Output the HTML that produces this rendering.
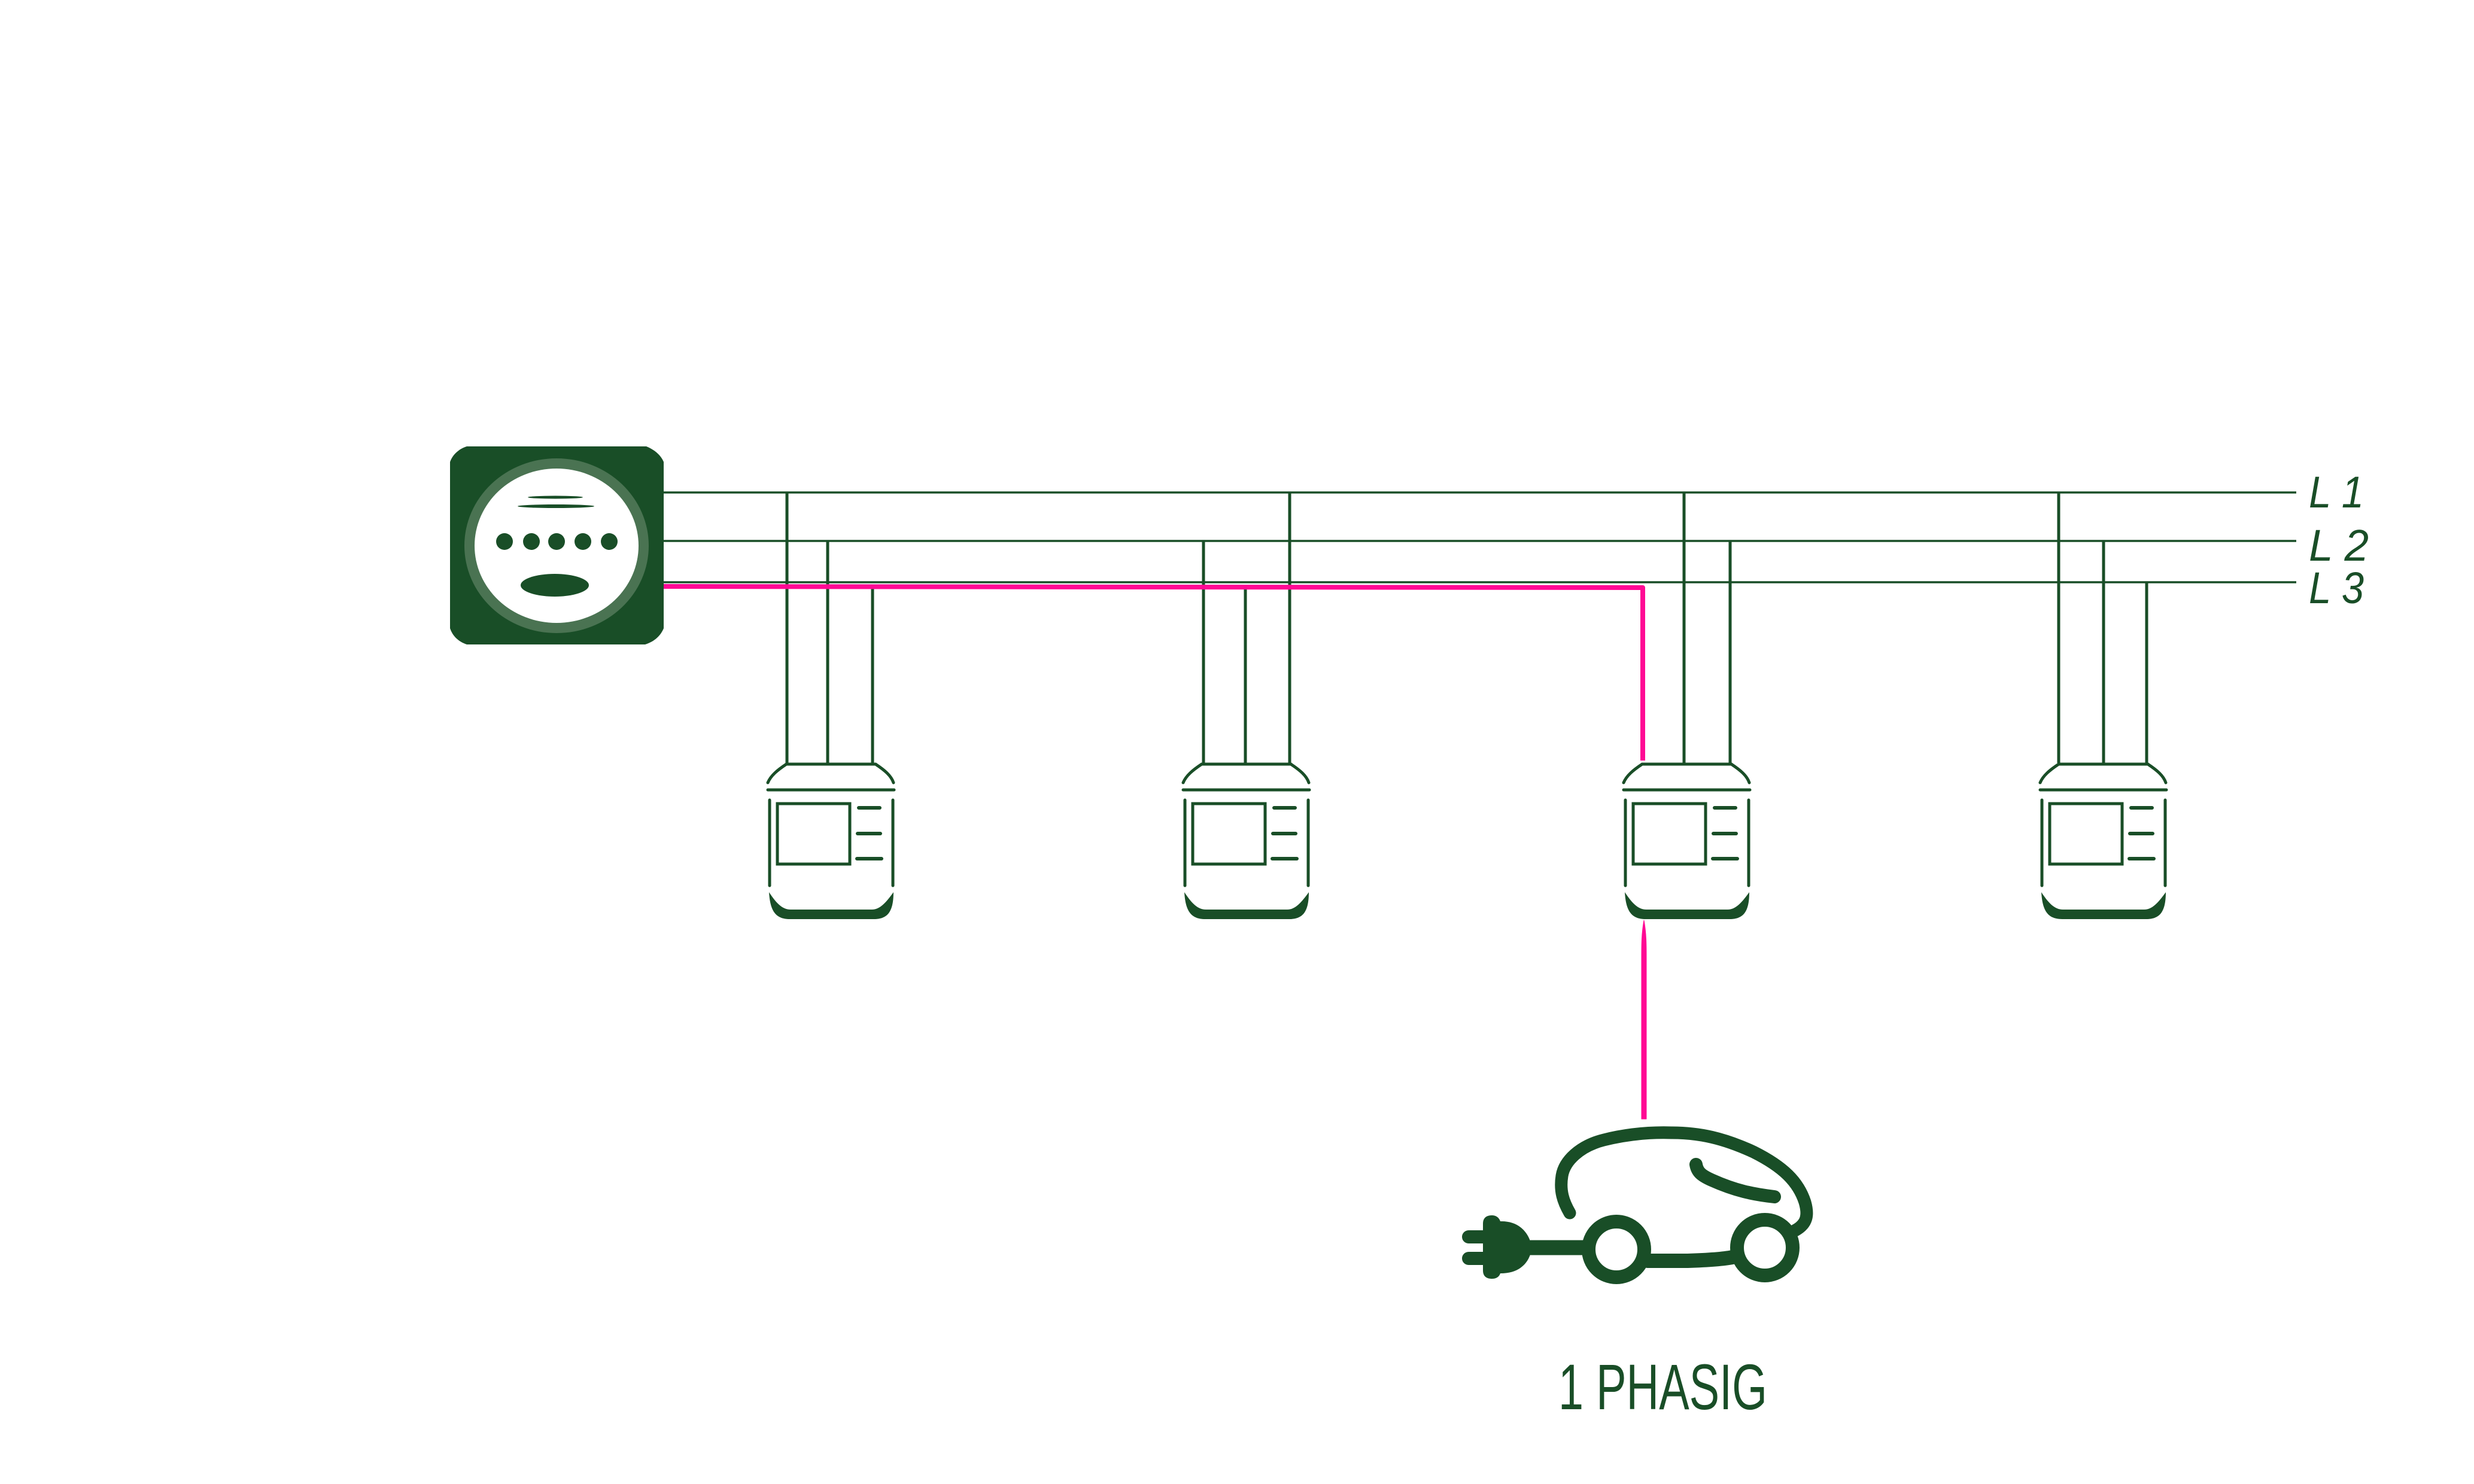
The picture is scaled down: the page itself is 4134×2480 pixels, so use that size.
<!DOCTYPE html>
<html><head><meta charset="utf-8"><style>
html,body{margin:0;padding:0;background:#fff;}
svg{display:block;}
</style></head><body>
<svg width="4134" height="2480" viewBox="0 0 4134 2480" xmlns="http://www.w3.org/2000/svg">
<defs>
<g id="dev" fill="none" stroke="#194e27" stroke-linecap="round">
  <path d="M29,3 L178,3" stroke-width="5"/>
  <path d="M29,3 C14,13 3,22 -2,34" stroke-width="5"/>
  <path d="M178,3 C193,13 204,22 208,34" stroke-width="5"/>
  <path d="M-2,46 L209,46" stroke-width="5"/>
  <path d="M1,63 L1,206 M207,63 L207,206" stroke-width="5"/>
  <rect x="14" y="69" width="121" height="101" stroke-width="5"/>
  <path d="M150,76 L185,76 M148,119 L186,119 M147,161 L188,161" stroke-width="6"/>
  <path d="M0,217 C2,250 12,262 35,262 L175,262 C198,262 208,250 208,217 C195,235 185,246 172,246 L36,246 C22,246 12,235 0,217 Z" fill="#194e27" stroke="none"/>
</g>
</defs>

<path d="M780,746 L1080,746 C1095,752 1105,762 1109,772 L1109,1050 C1104,1062 1094,1072 1078,1077 L780,1077 C765,1072 756,1062 752,1050 L752,772 C756,760 767,750 780,746 Z" fill="#194e27"/>
<ellipse cx="930" cy="912" rx="154" ry="146" fill="#4a7352"/>
<ellipse cx="930" cy="912" rx="137" ry="129" fill="#fff"/>
<ellipse cx="928" cy="831" rx="46" ry="2.5" fill="#194e27"/>
<ellipse cx="929" cy="846" rx="64" ry="3" fill="#194e27"/>
<circle cx="843" cy="905" r="14" fill="#194e27"/>
<circle cx="888" cy="905" r="14" fill="#194e27"/>
<circle cx="930" cy="905" r="14" fill="#194e27"/>
<circle cx="974" cy="905" r="14" fill="#194e27"/>
<circle cx="1018" cy="905" r="14" fill="#194e27"/>
<ellipse cx="927" cy="978" rx="57" ry="19" fill="#194e27"/>

<g stroke="#194e27" stroke-width="3.5" fill="none">
  <path d="M1109,823 L3837,823"/>
  <path d="M1109,904 L3837,904"/>
  <path d="M1109,973 L3837,973"/>
</g>
<g stroke="#194e27" stroke-width="5" fill="none">
  <path d="M1315,823 L1315,1275 M1383,904 L1383,1275 M1458,980 L1458,1275"/>
  <path d="M2011,904 L2011,1275 M2081,980 L2081,1275 M2155,823 L2155,1275"/>
  <path d="M2814,823 L2814,1275 M2891,904 L2891,1275"/>
  <path d="M3440,823 L3440,1275 M3515,904 L3515,1275 M3587,973 L3587,1275"/>
</g>
<path d="M1109,980 L2745,982 L2745,1271" stroke="#ff0a94" stroke-width="8" fill="none" stroke-linejoin="round"/>
<path d="M2747,1538 C2743,1560 2743,1580 2743,1600 L2743,1870 L2751,1870 L2751,1600 C2751,1580 2751,1560 2747,1538 Z" fill="#ff0a94" stroke="#ff0a94" stroke-width="1" stroke-linejoin="round"/>

<use href="#dev" x="1285" y="1274"/>
<use href="#dev" x="1979" y="1274"/>
<use href="#dev" x="2715" y="1274"/>
<use href="#dev" x="3411" y="1274"/>

<g fill="#194e27" font-family="Liberation Sans, sans-serif" font-size="74" font-style="italic">
  <text x="3858" y="848" textLength="92" lengthAdjust="spacingAndGlyphs">L 1</text>
  <text x="3858" y="937" textLength="100" lengthAdjust="spacingAndGlyphs">L 2</text>
  <text x="3858" y="1008" textLength="92" lengthAdjust="spacingAndGlyphs">L 3</text>
</g>

<g fill="none" stroke="#194e27" stroke-linecap="round" stroke-linejoin="round">
  <path d="M2623,2027 C2612,2008 2606,1990 2610,1965 C2614,1940 2640,1915 2680,1905 C2720,1895 2760,1892 2793,1893 C2840,1893 2880,1902 2930,1925 C2980,1950 3005,1975 3016,2009 C3022,2030 3020,2045 3000,2056" stroke-width="21"/>
  <path d="M2834,1946 C2836,1958 2842,1964 2860,1972 C2900,1990 2930,1996 2965,2000" stroke-width="22"/>
  <path d="M2558,2085 L2645,2085" stroke-width="25"/>
  <path d="M2753,2107 L2820,2107 C2850,2106 2880,2104 2895,2101" stroke-width="24"/>
  <path d="M2454,2067 L2480,2067 M2454,2103 L2480,2103" stroke-width="22"/>
</g>
<path d="M2478,2045 C2478,2035 2484,2031 2493,2031 C2500,2031 2505,2035 2507,2041 C2540,2040 2556,2062 2560,2085 C2556,2110 2540,2128 2507,2128 C2505,2134 2500,2137 2493,2137 C2484,2137 2478,2133 2478,2123 Z" fill="#194e27"/>
<circle cx="2701" cy="2088" r="46.5" fill="#fff" stroke="#194e27" stroke-width="23"/>
<circle cx="2949" cy="2085" r="46.5" fill="#fff" stroke="#194e27" stroke-width="23"/>

<text x="2604" y="2355" fill="#194e27" font-family="Liberation Sans, sans-serif" font-size="108" textLength="349" lengthAdjust="spacingAndGlyphs">1 PHASIG</text>
</svg>
</body></html>
